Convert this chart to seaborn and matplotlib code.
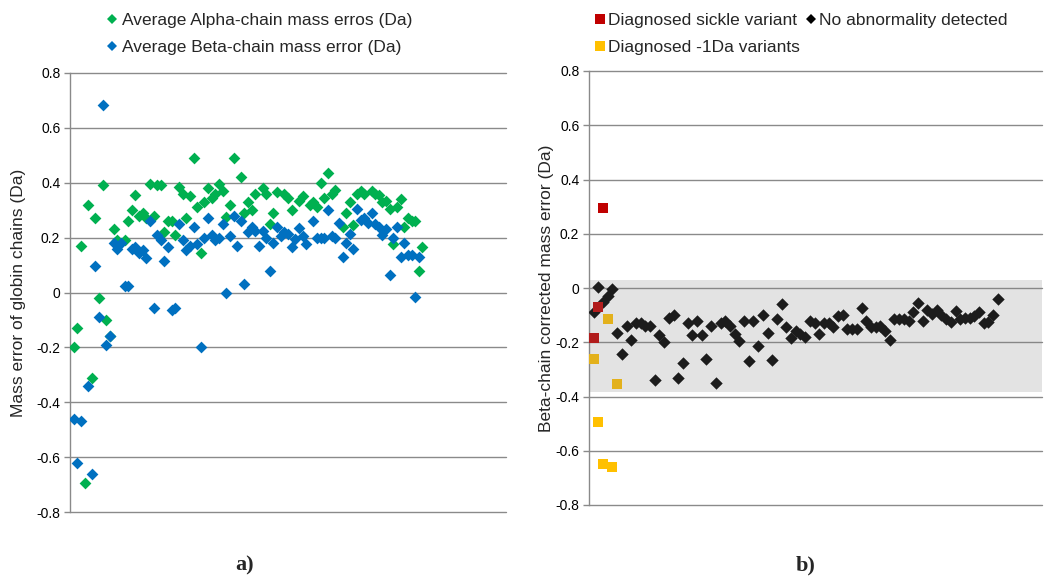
import matplotlib
matplotlib.use("Agg")
import numpy as np
import pandas as pd
import seaborn as sns
import matplotlib.pyplot as plt
from matplotlib.lines import Line2D

# ---------------- data ----------------
yticks = [0.8, 0.6, 0.4, 0.2, 0.0, -0.2, -0.4, -0.6, -0.8]
ytick_labels = ["0.8", "0.6", "0.4", "0.2", "0", "-0.2", "-0.4", "-0.6", "-0.8"]

# panel a) : average alpha-chain mass errors
alpha_x = [1, 2, 3, 4, 5, 6, 7, 8, 9, 10, 11, 12, 13, 15, 16, 17, 18, 19, 20, 21,
           22, 23, 24, 25, 26, 27, 28, 29, 30, 31, 32, 33, 34, 35, 36, 37, 38, 39, 40, 41,
           42, 43, 44, 45, 47, 48, 49, 50, 51, 53, 54, 55, 56, 57, 59, 60, 61, 63, 64, 66,
           67, 68, 69, 70, 71, 72, 73, 75, 76, 77, 78, 79, 80, 81, 83, 84, 85, 86, 87, 88,
           89, 90, 91, 92, 93, 94, 95, 96, 97]
alpha_y = [-0.20, -0.13, 0.17, -0.695, 0.32, -0.31, 0.27, -0.02, 0.39, -0.10, -0.16, 0.23, 0.19, 0.19, 0.26, 0.30, 0.355, 0.28, 0.29, 0.27,
           0.395, 0.28, 0.39, 0.39, 0.22, 0.26, 0.26, 0.21, 0.385, 0.36, 0.27, 0.35, 0.49, 0.31, 0.145, 0.33, 0.38, 0.345, 0.36, 0.395,
           0.37, 0.275, 0.32, 0.49, 0.42, 0.29, 0.33, 0.30, 0.36, 0.38, 0.36, 0.25, 0.29, 0.365, 0.36, 0.345, 0.30, 0.335, 0.35, 0.32,
           0.33, 0.31, 0.40, 0.345, 0.435, 0.36, 0.375, 0.24, 0.29, 0.33, 0.245, 0.36, 0.37, 0.36, 0.37, 0.36, 0.355, 0.33, 0.335, 0.305,
           0.175, 0.31, 0.34, 0.24, 0.27, 0.26, 0.26, 0.08, 0.165]

# panel a) : average beta-chain mass errors
beta_x = [1, 2, 3, 5, 6, 7, 8, 9, 10, 11, 12, 13, 14, 15, 16, 17, 18, 19, 20, 21,
          22, 23, 24, 25, 26, 27, 28, 29, 30, 31, 32, 33, 34, 35, 36, 37, 38, 39, 40, 41,
          42, 43, 44, 45, 46, 47, 48, 49, 50, 51, 52, 53, 54, 55, 56, 57, 58, 59, 60, 61,
          62, 63, 64, 65, 67, 68, 69, 70, 71, 72, 73, 74, 75, 76, 77, 78, 79, 80, 81, 82,
          83, 84, 85, 86, 87, 88, 89, 90, 91, 92, 93, 94, 95, 96]
beta_y = [-0.46, -0.62, -0.47, -0.34, -0.66, 0.095, -0.09, 0.685, -0.19, -0.16, 0.18, 0.16, 0.18, 0.025, 0.025, 0.16, 0.165, 0.145, 0.155, 0.125,
          0.26, -0.058, 0.21, 0.19, 0.115, 0.165, -0.062, -0.058, 0.25, 0.19, 0.155, 0.17, 0.24, 0.175, -0.20, 0.20, 0.27, 0.21, 0.19, 0.20,
          0.25, 0.0, 0.205, 0.28, 0.17, 0.26, 0.03, 0.22, 0.24, 0.225, 0.17, 0.225, 0.20, 0.08, 0.18, 0.24, 0.205, 0.22, 0.215, 0.165,
          0.195, 0.235, 0.205, 0.175, 0.26, 0.20, 0.20, 0.20, 0.30, 0.205, 0.20, 0.255, 0.13, 0.18, 0.215, 0.16, 0.305, 0.265, 0.27, 0.255,
          0.29, 0.25, 0.24, 0.21, 0.23, 0.065, 0.20, 0.24, 0.13, 0.18, 0.135, 0.135, -0.015, 0.13]

# panel b) : beta-chain corrected mass error
normal_x = list(range(1, 88))
normal_y = [-0.09, 0.005, -0.05, -0.03, -0.005, -0.165, -0.245, -0.14, -0.19, -0.13,
            -0.13, -0.14, -0.14, -0.34, -0.175, -0.20, -0.11, -0.10, -0.33, -0.275,
            -0.13, -0.175, -0.12, -0.175, -0.26, -0.14, -0.35, -0.13, -0.12, -0.14,
            -0.17, -0.195, -0.12, -0.27, -0.12, -0.215, -0.10, -0.165, -0.265, -0.115,
            -0.06, -0.145, -0.185, -0.16, -0.17, -0.18, -0.12, -0.13, -0.17, -0.13,
            -0.13, -0.145, -0.105, -0.10, -0.15, -0.15, -0.15, -0.075, -0.12, -0.145,
            -0.145, -0.14, -0.16, -0.19, -0.115, -0.115, -0.115, -0.12, -0.09, -0.055,
            -0.12, -0.08, -0.095, -0.08, -0.10, -0.115, -0.125, -0.085, -0.115, -0.11,
            -0.11, -0.105, -0.09, -0.13, -0.125, -0.10, -0.04]
sickle_x = [1, 2, 3]
sickle_y = [-0.185, -0.07, 0.295]
minus1_x = [1, 2, 3, 4, 5, 6]
minus1_y = [-0.26, -0.495, -0.65, -0.115, -0.66, -0.355]
band_low, band_high = -0.385, 0.03

labels_a = ["Average Alpha-chain mass erros (Da)", "Average Beta-chain mass error (Da)"]
labels_b = ["Diagnosed sickle variant", "Diagnosed -1Da variants", "No abnormality detected"]

# ---------------- style ----------------
GREEN = "#00B050"
BLUE = "#0070C0"
RED = "#C00000"
YELLOW = "#FFC000"
BLACK = "#000000"
GRID = "#8a8a8a"
FS = 12.5

sns.set_theme(style="white")
plt.rcParams["font.family"] = ["Liberation Sans", "DejaVu Sans"]

fig = plt.figure(figsize=(10.56, 5.81), dpi=100)
axL = fig.add_axes([70 / 1056, 1 - 512 / 581, 436 / 1056, 439 / 581])
axR = fig.add_axes([589 / 1056, 1 - 505 / 581, 453 / 1056, 434 / 581])

df_a = pd.DataFrame({"sample": alpha_x, "err": alpha_y})
df_b = pd.DataFrame({"sample": beta_x, "err": beta_y})
sns.scatterplot(data=df_a, x="sample", y="err", marker="D", color=GREEN, s=36,
                linewidth=0, ax=axL, legend=False, zorder=3)
sns.scatterplot(data=df_b, x="sample", y="err", marker="D", color=BLUE, s=36,
                linewidth=0, ax=axL, legend=False, zorder=4)

df_n = pd.DataFrame({"sample": normal_x, "err": normal_y})
df_s = pd.DataFrame({"sample": sickle_x, "err": sickle_y})
df_m = pd.DataFrame({"sample": minus1_x, "err": minus1_y})
sns.scatterplot(data=df_n, x="sample", y="err", marker="D", color=BLACK, s=40,
                linewidth=0, ax=axR, legend=False, zorder=3)
sns.scatterplot(data=df_s, x="sample", y="err", marker="s", color=RED, s=42,
                linewidth=0, ax=axR, legend=False, zorder=4)
sns.scatterplot(data=df_m, x="sample", y="err", marker="s", color=YELLOW, s=42,
                linewidth=0, ax=axR, legend=False, zorder=4)
axR.axhspan(band_low, band_high, color=(0.5, 0.5, 0.5), alpha=0.22, lw=0, zorder=5)


def style(ax, xmax):
    ax.set_xlim(0, xmax)
    ax.set_ylim(-0.8, 0.8)
    ax.set_yticks(yticks)
    ax.set_yticklabels(ytick_labels)
    ax.set_xticks([])
    ax.set_xlabel("")
    ax.yaxis.grid(True, color=GRID, lw=1)
    ax.xaxis.grid(False)
    ax.set_axisbelow(True)
    for s in ["top", "right", "bottom"]:
        ax.spines[s].set_visible(False)
    ax.spines["left"].set_color(GRID)
    ax.spines["left"].set_linewidth(1)
    ax.tick_params(axis="y", direction="out", length=4, width=1, color=GRID,
                   labelsize=10, pad=3, left=True, labelcolor="black")
    for gl in ax.get_ygridlines():
        gl.set_clip_on(False)


style(axL, 120)
style(axR, 96.4)

axL.set_ylabel("Mass error of globin chains (Da)", fontsize=FS)
axL.yaxis.set_label_coords(-0.1, 0.5)
axR.set_ylabel("Beta-chain corrected mass error (Da)", fontsize=FS)
axR.yaxis.set_label_coords(-0.077, 0.5)

hA = [Line2D([], [], marker="D", color=GREEN, ls="none", markersize=5.5, mew=0),
      Line2D([], [], marker="D", color=BLUE, ls="none", markersize=5.5, mew=0)]
axL.legend(hA, labels_a, loc="upper left", bbox_to_anchor=(107.6 / 1056, 1 - 13 / 581),
           bbox_transform=fig.transFigure, frameon=False, fontsize=FS,
           handlelength=0.5, handletextpad=0.33, labelspacing=0.66,
           borderpad=0, borderaxespad=0)

hB = [Line2D([], [], marker="s", color=RED, ls="none", markersize=6.5, mew=0),
      Line2D([], [], marker="s", color=YELLOW, ls="none", markersize=6.5, mew=0),
      Line2D([], [], marker="D", color=BLACK, ls="none", markersize=5.5, mew=0)]
axR.legend(hB, labels_b, loc="upper left", bbox_to_anchor=(595.6 / 1056, 1 - 13 / 581),
           bbox_transform=fig.transFigure, frameon=False, fontsize=FS, ncol=2,
           handlelength=0.5, handletextpad=0.21, labelspacing=0.66, columnspacing=0.4,
           borderpad=0, borderaxespad=0)

fig.text(245 / 1056, 1 - 565 / 581, "a)", ha="center", va="center", fontsize=16,
         fontweight="bold", family="Liberation Serif")
fig.text(806 / 1056, 1 - 565 / 581, "b)", ha="center", va="center", fontsize=16,
         fontweight="bold", family="Liberation Serif")

fig.savefig("out.png", dpi=100)
